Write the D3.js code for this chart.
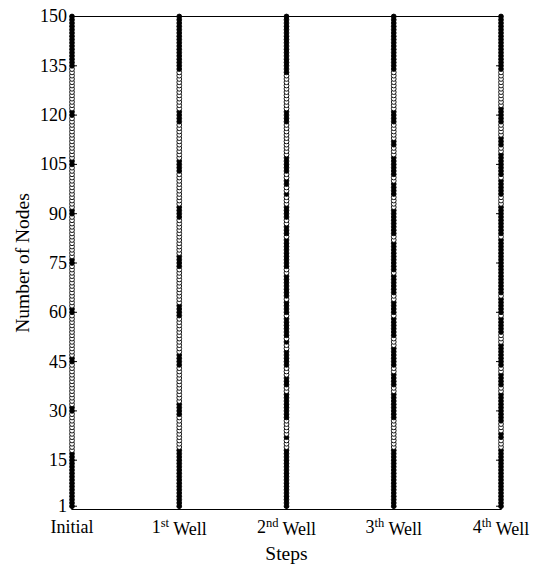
<!DOCTYPE html>
<html><head><meta charset="utf-8">
<script src="https://cdn.jsdelivr.net/npm/d3@7"></script>
<style>body{margin:0;background:#fff}svg{display:block}text{font-family:"Liberation Serif","Times New Roman",serif;fill:#000}</style>
</head><body><svg id="c" width="537" height="565"></svg>
<script>
const steps = ["Initial", "1", "2", "3", "4"];
const stepSup = ["", "st", "nd", "th", "th"];
const yTicks = [1, 15, 30, 45, 60, 75, 90, 105, 120, 135, 150];
const nodeCount = 150;
// filled (black) node ranges for each step [from, to]
const filledInitial = [[1,17],[30,31],[45,46],[60,61],[75,76],[90,91],[105,106],[120,121],[135,150]];
const filledWell1 = [[1,18],[29,32],[44,47],[59,62],[74,77],[89,92],[103,106],[118,121],[134,150]];
const filledWell2 = [[1,18],[22,22],[28,35],[38,40],[44,48],[51,51],[53,58],[60,63],[65,71],[74,82],[84,86],[89,92],[96,96],[99,100],[103,107],[118,121],[133,150]];
const filledWell3 = [[1,18],[28,35],[38,41],[44,49],[53,58],[60,63],[66,71],[73,81],[84,91],[96,99],[102,107],[111,112],[118,121],[134,150]];
const filledWell4 = [[1,18],[22,23],[27,35],[38,41],[44,50],[54,58],[60,64],[66,72],[73,82],[84,92],[96,100],[102,108],[111,113],[118,122],[134,150]];
const filledAll = [filledInitial, filledWell1, filledWell2, filledWell3, filledWell4];

const svg = d3.select("#c");
const x = d3.scaleLinear().domain([1, 5]).range([72, 501]);
const y = d3.scaleLinear().domain([0, 150]).range([509.5, 16.5]);

const pts = [];
filledAll.forEach((ranges, i) => {
  for (let n = 1; n <= nodeCount; n++) {
    const f = ranges.some(r => n >= r[0] && n <= r[1]);
    pts.push({step: i + 1, node: n, filled: f});
  }
});

const g = svg.append("g");
g.append("rect").attr("x", x(1)).attr("y", y(150)).attr("width", x(5) - x(1)).attr("height", y(0) - y(150))
  .attr("fill", "none").attr("stroke", "#000").attr("stroke-width", 1);

yTicks.forEach(t => {
  g.append("line").attr("x1", x(1)).attr("x2", x(1) + 5).attr("y1", y(t)).attr("y2", y(t)).attr("stroke", "#000");
  g.append("line").attr("x1", x(5)).attr("x2", x(5) - 5).attr("y1", y(t)).attr("y2", y(t)).attr("stroke", "#000");
  g.append("text").attr("x", 67).attr("y", y(t)).attr("dy", "0.33em").attr("text-anchor", "end")
    .style("font-size", "18px").text(t);
});
steps.forEach((s, i) => {
  const xx = x(i + 1);
  g.append("line").attr("x1", xx).attr("x2", xx).attr("y1", y(0)).attr("y2", y(0) - 5).attr("stroke", "#000");
  g.append("line").attr("x1", xx).attr("x2", xx).attr("y1", y(150)).attr("y2", y(150) + 5).attr("stroke", "#000");
  const t = g.append("text").attr("x", xx).attr("y", 533).attr("text-anchor", "middle").style("font-size", "18px");
  if (i === 0) t.text(s);
  else {
    t.append("tspan").text(s);
    t.append("tspan").attr("dy", "-0.45em").style("font-size", "12.5px").text(stepSup[i]);
    t.append("tspan").attr("dy", "0.45em").text(" Well");
  }
});

g.selectAll("circle.pt").data(pts).enter().append("circle")
  .attr("class", "pt")
  .attr("cx", d => x(d.step)).attr("cy", d => y(d.node)).attr("r", 2.4)
  .attr("fill", d => d.filled ? "#000" : "#fff").attr("stroke", "#000").attr("stroke-width", 0.9);

svg.append("text").attr("x", (x(1) + x(5)) / 2).attr("y", 560).attr("text-anchor", "middle")
  .style("font-size", "19.5px").text("Steps");
svg.append("text").attr("transform", `translate(29,${(y(0) + y(150)) / 2}) rotate(-90)`)
  .attr("text-anchor", "middle").style("font-size", "19.5px").text("Number of Nodes");
</script></body></html>
